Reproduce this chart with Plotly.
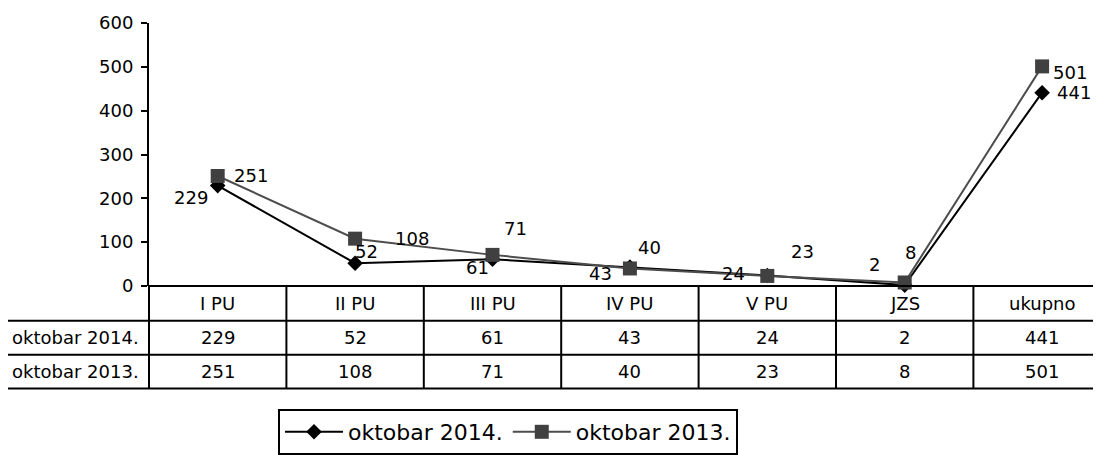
import plotly.graph_objects as go

categories = ["I PU", "II PU", "III PU", "IV PU", "V PU", "JZS", "ukupno"]
series_names = ["oktobar 2014.", "oktobar 2013."]
values_2014 = [229, 52, 61, 43, 24, 2, 441]
values_2013 = [251, 108, 71, 40, 23, 8, 501]
y_ticks = [0, 100, 200, 300, 400, 500, 600]

# label offsets (px) for data labels, mimicking the original placement
shift_2014 = [(-27, -12), (11, 12), (-15, -8), (-29, -6), (-34, 2), (-30, 21), (32, 0)]
shift_2013 = [(33, 0), (57, 0), (23, 26), (20, 21), (35, 24), (6, 30), (28, -6)]

FONT = "DejaVu Sans"
BODY = 8                      # default body margin of the html page
PAGE_W, PAGE_H = 1101, 455
PLOT_L, PLOT_T, PLOT_B = 149, 23, 287   # plot area in page pixels
W, H = PAGE_W - BODY, PAGE_H - BODY
L, T = PLOT_L - BODY, PLOT_T - BODY
B = H - (PLOT_B - BODY)
plot_h = PLOT_B - PLOT_T      # 264
plot_w = PAGE_W - PLOT_L      # 952

def py(px):  # page pixel y -> paper y
    return (PLOT_B - px) / plot_h

def pxx(px):  # page pixel x -> paper x
    return (px - PLOT_L) / plot_w

xidx = list(range(len(categories)))

fig = go.Figure()
fig.add_trace(go.Scatter(
    x=xidx, y=values_2014, name=series_names[0], mode="lines+markers",
    line=dict(color="black", width=2),
    marker=dict(symbol="diamond", size=12, color="black"),
    cliponaxis=False))
fig.add_trace(go.Scatter(
    x=xidx, y=values_2013, name=series_names[1], mode="lines+markers",
    line=dict(color="#4d4d4d", width=2),
    marker=dict(symbol="square", size=14, color="#404040"),
    cliponaxis=False))

lfont = dict(family=FONT, size=18, color="black")
ann = []
for i, v in enumerate(values_2014):
    dx, dy = shift_2014[i]
    ann.append(dict(x=i, y=v, xref="x", yref="y", text=str(v), showarrow=False,
                    xshift=dx, yshift=dy, font=lfont))
for i, v in enumerate(values_2013):
    dx, dy = shift_2013[i]
    ann.append(dict(x=i, y=v, xref="x", yref="y", text=str(v), showarrow=False,
                    xshift=dx, yshift=dy, font=lfont))

# data table
row_lines = [287, 322, 356, 390]
row_centers = [305, 339, 373]
tfont = dict(family=FONT, size=18, color="black")
for i, c in enumerate(categories):
    ann.append(dict(x=i, y=py(row_centers[0]), xref="x", yref="paper", text=c,
                    showarrow=False, font=tfont, yanchor="middle"))
    ann.append(dict(x=i, y=py(row_centers[1]), xref="x", yref="paper", text=str(values_2014[i]),
                    showarrow=False, font=tfont, yanchor="middle"))
    ann.append(dict(x=i, y=py(row_centers[2]), xref="x", yref="paper", text=str(values_2013[i]),
                    showarrow=False, font=tfont, yanchor="middle"))
for r, name in enumerate(series_names):
    ann.append(dict(x=pxx(10), y=py(row_centers[r + 1]), xref="paper", yref="paper", text=name,
                    showarrow=False, font=tfont, xanchor="left", yanchor="middle"))

shapes = []
lw = dict(color="black", width=2)
shapes.append(dict(type="line", xref="paper", yref="paper", x0=0, x1=1.01,
                   y0=py(row_lines[0]), y1=py(row_lines[0]), line=lw))
for yl in row_lines[1:]:
    shapes.append(dict(type="line", xref="paper", yref="paper", x0=pxx(7), x1=1.01,
                       y0=py(yl), y1=py(yl), line=lw))
shapes.append(dict(type="line", xref="paper", yref="paper", x0=pxx(7), x1=pxx(7),
                   y0=py(row_lines[1]), y1=py(row_lines[3]), line=lw))
shapes.append(dict(type="line", xref="paper", yref="paper", x0=0, x1=0,
                   y0=py(row_lines[0]), y1=py(row_lines[3]), line=lw))
for i in range(len(categories) - 1):
    shapes.append(dict(type="line", xref="x", yref="paper", x0=i + 0.5, x1=i + 0.5,
                       y0=py(row_lines[0]), y1=py(row_lines[3]), line=lw))

fig.update_layout(
    width=W, height=H,
    margin=dict(l=L, r=0, t=T, b=B, pad=0),
    paper_bgcolor="white", plot_bgcolor="white",
    font=dict(family=FONT, size=18, color="black"),
    showlegend=True,
    legend=dict(orientation="h", x=pxx(278), y=py(410), xanchor="left", yanchor="top",
                bordercolor="black", borderwidth=2, bgcolor="white",
                font=dict(family=FONT, size=22, color="black"),
                itemwidth=58, tracegroupgap=0),
    xaxis=dict(range=[-0.5, -0.5 + plot_w / 137.4], showgrid=False, zeroline=False,
               showticklabels=False, ticks="", showline=False, fixedrange=True),
    yaxis=dict(range=[0, 600], tickvals=y_ticks, showgrid=False, zeroline=False,
               showline=True, linecolor="black", linewidth=2, ticks="outside",
               ticklen=6, tickwidth=2, tickcolor="black", ticklabelstandoff=4,
               tickfont=dict(family=FONT, size=18, color="black"), fixedrange=True),
    annotations=ann, shapes=shapes,
)

fig.write_html("out.html")
